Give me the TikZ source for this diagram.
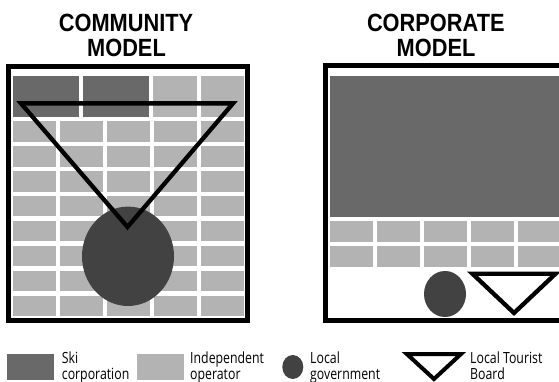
\documentclass[tikz,border=0pt]{standalone}
\usepackage{fontspec}
\newfontfamily\titlefont[FakeStretch=0.875]{Liberation Sans}
\newfontfamily\legendfont[FakeStretch=0.8]{Open Sans}
\definecolor{skigray}{HTML}{696969}
\definecolor{indgray}{HTML}{B3B3B3}
\definecolor{govgray}{HTML}{424242}
\tikzset{
  frame/.style={draw=black, line width=4.8pt},
  skitile/.style={fill=skigray},
  indtile/.style={fill=indgray},
  gov/.style={fill=govgray},
  board/.style={draw=black, line width=4.3pt, miter limit=10, line join=miter},
  title/.style={inner sep=0pt, anchor=base, font=\titlefont\bfseries\fontsize{24.9}{25.6}\selectfont},
  legtext/.style={inner sep=0pt, anchor=base west, font=\legendfont\fontsize{15.4}{15.7}\selectfont}
}
\begin{document}
\begin{tikzpicture}[x=1pt,y=-1pt]
\useasboundingbox (0,0) rectangle (559,382);
\clip (0,0) rectangle (559,382);
\fill[white] (0,0) rectangle (559,382);
% titles
\node[title] (t1a) at (126,31.4) {COMMUNITY};
\node[title] (t1b) at (126.5,57) {MODEL};
\node[title] (t2a) at (435.8,31.4) {CORPORATE};
\node[title] (t2b) at (436,57) {MODEL};
% ---------------- community model
\fill[skitile] (12.7,75.7) rectangle (79,116.7);
\fill[skitile] (82.7,75.7) rectangle (149,116.7);
\fill[indtile] (153,75.7) rectangle (197,116.7);
\fill[indtile] (201.1,75.7) rectangle (244.1,116.7);
\foreach \k in {0,...,7}{
  \foreach \j in {0,...,4}{
    \fill[indtile] ({12.7+47.1*\j},{121+24.93*\k}) rectangle ++(43,20.7);
  }
}
\fill[gov] (128,256.3) ellipse [x radius=46, y radius=49.7];
\draw[board] (21,103.4) -- (233,103.4) -- (127.5,227) -- cycle;
\draw[frame] (8.8,66.4) rectangle (247.5,320.5);
% ---------------- corporate model
\fill[skitile] (330,75.7) rectangle (600,216.7);
\foreach \k in {0,1}{
  \foreach \j in {0,...,5}{
    \fill[indtile] ({330+47.1*\j},{221+24.85*\k}) rectangle ++(43,20.8);
  }
}
\fill[gov] (445,294) ellipse [x radius=21, y radius=23];
\draw[board] (472.5,273.8) -- (555.5,273.8) -- (514,313) -- cycle;
\draw[frame] (325.8,65.8) rectangle (620,320.5);
% ---------------- legend
\fill[skitile] (7.3,354.3) rectangle (54.3,380);
\node[legtext] (l1a) at (61.7,363.3) {Ski};
\node[legtext] (l1b) at (61.7,379) {corporation};
\fill[indtile] (137.3,354.3) rectangle (184.3,380);
\node[legtext] (l2a) at (190,363.3) {Independent};
\node[legtext] (l2b) at (190,379) {operator};
\fill[gov] (292.8,367) ellipse [x radius=10.5, y radius=12];
\node[legtext] (l3a) at (310,363.3) {Local};
\node[legtext] (l3b) at (310,379) {government};
\draw[board, line width=4pt] (406.8,354) -- (461,354) -- (434,379) -- cycle;
\node[legtext] (l4a) at (470,363.3) {Local Tourist};
\node[legtext] (l4b) at (470,379) {Board};
\end{tikzpicture}
\end{document}
